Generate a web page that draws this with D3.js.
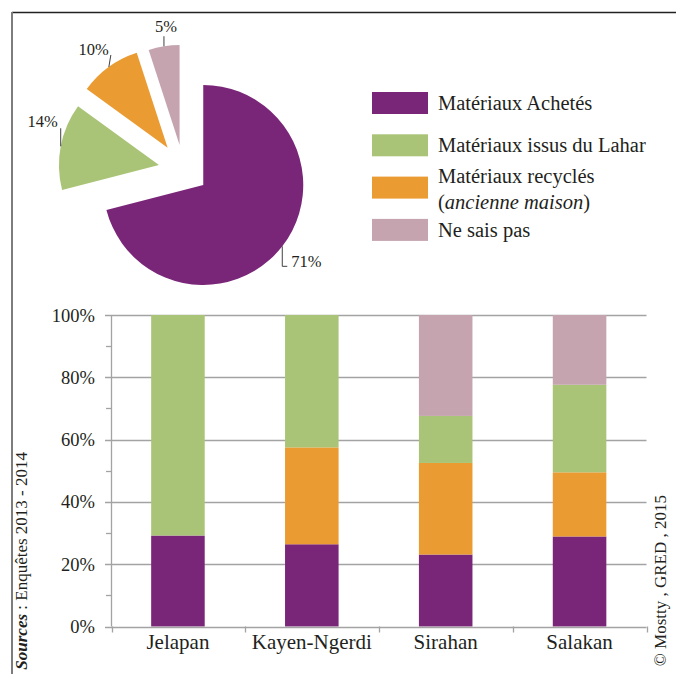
<!DOCTYPE html>
<html>
<head>
<meta charset="utf-8">
<script src="https://cdn.jsdelivr.net/npm/d3@7"></script>
<style>
  html, body { margin: 0; padding: 0; background: #fff; }
  svg { display: block; }
  text { font-family: 'Liberation Serif', 'Times New Roman', serif; fill: #231f20; }
</style>
</head>
<body>
<svg id="chart" width="676" height="674"></svg>
<script>
// ---------- DATA ----------
const legendLabels = ["Matériaux Achetés", "Matériaux issus du Lahar", "Matériaux recyclés", "Ne sais pas"];
const pieValues = [71, 14, 10, 5];          // order: Achetés, Lahar, recyclés, Ne sais pas
const pieLabelText = ["71%", "14%", "10%", "5%"];

const categories = ["Jelapan", "Kayen-Ngerdi", "Sirahan", "Salakan"];
const achetes   = [29.2, 26.4, 23.1, 28.9];
const recycles  = [0,    31.1, 29.4, 20.6];
const lahar     = [70.8, 42.5, 15.1, 28.1];
const nesaispas = [0,    0,    32.4, 22.4];
const yTicks = [0, 20, 40, 60, 80, 100];
const yMinorTicks = [10, 30, 50, 70, 90];

const sourceText = "Enquêtes 2013 - 2014";
const copyrightText = "© Mostty , GRED , 2015";

// ---------- STYLE ----------
const colors = {
  achetes: "#7a2678",
  lahar: "#a9c476",
  recycles: "#ea9c33",
  nesaispas: "#c5a4af"
};
const pieColors = [colors.achetes, colors.lahar, colors.recycles, colors.nesaispas];
const legendColors = [colors.achetes, colors.lahar, colors.recycles, colors.nesaispas];

const svg = d3.select("#chart");

// frame
svg.append("line").attr("x1", 12).attr("x2", 676).attr("y1", 12.5).attr("y2", 12.5)
  .attr("stroke", "#222").attr("stroke-width", 1.5);
svg.append("line").attr("x1", 12).attr("x2", 12).attr("y1", 12).attr("y2", 674)
  .attr("stroke", "#7d7d7d").attr("stroke-width", 2);

// ---------- PIE ----------
const pieCx = 183.5, pieCy = 169.7, pieR = 100;
const pieGen = d3.pie().sort(null).value(d => d);
const arcs = pieGen(pieValues);
const arcGen = d3.arc().innerRadius(0).outerRadius(pieR);
const pieG = svg.append("g").attr("transform", `translate(${pieCx},${pieCy})`);

const explodeBySlice = [25, 25, 27, 25];
const labelGeo = [
  { leader: [[0, 0], [0, 20], [5, 20]], tx: 9, ty: 20.5, anchor: "start" },
  { leader: [[0, 0], [0, -18]], tx: -3, ty: -19, anchor: "end" },
  { leader: [[0, 0], [2, -12]], tx: 0, ty: -12, anchor: "end" },
  { leader: [[0, 0], [0, -10]], tx: 2, ty: -14.5, anchor: "middle" }
];

arcs.forEach((a, i) => {
  const mid = (a.startAngle + a.endAngle) / 2;
  const ex = explodeBySlice[i];
  const ox = ex * Math.sin(mid), oy = -ex * Math.cos(mid);
  pieG.append("path")
    .attr("d", arcGen(a))
    .attr("transform", `translate(${ox},${oy})`)
    .attr("fill", pieColors[i]);
  const px = ox + pieR * Math.sin(mid), py = oy - pieR * Math.cos(mid);
  const g = labelGeo[i];
  pieG.append("path")
    .attr("d", d3.line()(g.leader.map(p => [px + p[0], py + p[1]])))
    .attr("fill", "none").attr("stroke", "#404040").attr("stroke-width", 1);
  pieG.append("text")
    .attr("x", px + g.tx).attr("y", py + g.ty)
    .attr("text-anchor", g.anchor)
    .attr("font-size", 16.5)
    .text(pieLabelText[i]);
});

// ---------- LEGEND ----------
const legG = svg.append("g");
const legFont = 20.5;
legendLabels.forEach((lab, i) => {
  const top = 92 + i * 42.3;
  legG.append("rect").attr("x", 372).attr("y", top).attr("width", 56).attr("height", 22)
    .attr("fill", legendColors[i]);
  if (i === 2) {
    legG.append("text").attr("x", 438).attr("y", top + 6).attr("font-size", legFont).text(lab);
    const t2 = legG.append("text").attr("x", 438).attr("y", top + 32).attr("font-size", legFont);
    t2.append("tspan").text("(");
    t2.append("tspan").attr("font-style", "italic").text("ancienne maison");
    t2.append("tspan").text(")");
  } else {
    legG.append("text").attr("x", 438).attr("y", top + 18).attr("font-size", legFont).text(lab);
  }
});

// ---------- STACKED BARS ----------
const x = d3.scaleBand().domain(categories).range([111, 646.5]).paddingInner(0.6).paddingOuter(0.3);
const y = d3.scaleLinear().domain([0, 100]).range([626.5, 315]);

const rows = categories.map((c, i) => ({
  cat: c, achetes: achetes[i], recycles: recycles[i], lahar: lahar[i], nesaispas: nesaispas[i]
}));
const keys = ["achetes", "recycles", "lahar", "nesaispas"];
const stacked = d3.stack().keys(keys)(rows);

// gridlines
svg.append("g").selectAll("line").data(yTicks.filter(t => t > 0)).join("line")
  .attr("x1", 105).attr("x2", 646.5)
  .attr("y1", d => Math.round(y(d)) + 0.5).attr("y2", d => Math.round(y(d)) + 0.5)
  .attr("stroke", "#a3a3a3").attr("stroke-width", 1.3);
// minor ticks
svg.append("g").selectAll("line").data(yMinorTicks).join("line")
  .attr("x1", 106).attr("x2", 111)
  .attr("y1", d => Math.round(y(d)) + 0.5).attr("y2", d => Math.round(y(d)) + 0.5)
  .attr("stroke", "#a3a3a3").attr("stroke-width", 1.3);

// bars
svg.append("g").selectAll("g").data(stacked).join("g")
  .attr("fill", d => colors[d.key])
  .selectAll("rect").data(d => d).join("rect")
  .attr("x", d => x(d.data.cat))
  .attr("width", x.bandwidth())
  .attr("y", d => y(d[1]))
  .attr("height", d => Math.max(0, y(d[0]) - y(d[1])));

// y axis line
svg.append("line").attr("x1", 111.5).attr("x2", 111.5).attr("y1", y(100)).attr("y2", y(0))
  .attr("stroke", "#a3a3a3").attr("stroke-width", 1.3);
// x axis line + 0% tick
svg.append("line").attr("x1", 105).attr("x2", 646.5).attr("y1", Math.round(y(0)) + 0.5).attr("y2", Math.round(y(0)) + 0.5)
  .attr("stroke", "#a3a3a3").attr("stroke-width", 1.3);
// x boundary ticks
const boundaries = [111.5].concat(categories.map(c => x(c) + x.bandwidth() / 2 + x.step() / 2));
svg.append("g").selectAll("line").data(boundaries).join("line")
  .attr("x1", d => Math.round(d) + 0.5).attr("x2", d => Math.round(d) + 0.5)
  .attr("y1", y(0)).attr("y2", y(0) + 6)
  .attr("stroke", "#a3a3a3").attr("stroke-width", 1.3);

// y tick labels
svg.append("g").selectAll("text").data(yTicks).join("text")
  .attr("x", 95).attr("y", d => y(d) + 6.5)
  .attr("text-anchor", "end").attr("font-size", 18.5)
  .text(d => d + "%");

// category labels
svg.append("g").selectAll("text").data(categories).join("text")
  .attr("x", d => x(d) + x.bandwidth() / 2).attr("y", 648.5)
  .attr("text-anchor", "middle").attr("font-size", 21)
  .text(d => d);

// ---------- SIDE TEXTS ----------
const src = svg.append("text")
  .attr("transform", "translate(26.5,452) rotate(-90)")
  .attr("text-anchor", "end").attr("font-size", 17);
src.append("tspan").attr("font-weight", "bold").attr("font-style", "italic").text("Sources");
src.append("tspan").text(" : " + sourceText);

svg.append("text")
  .attr("transform", "translate(666,495) rotate(-90)")
  .attr("text-anchor", "end").attr("font-size", 17)
  .text(copyrightText);
</script>
</body>
</html>
